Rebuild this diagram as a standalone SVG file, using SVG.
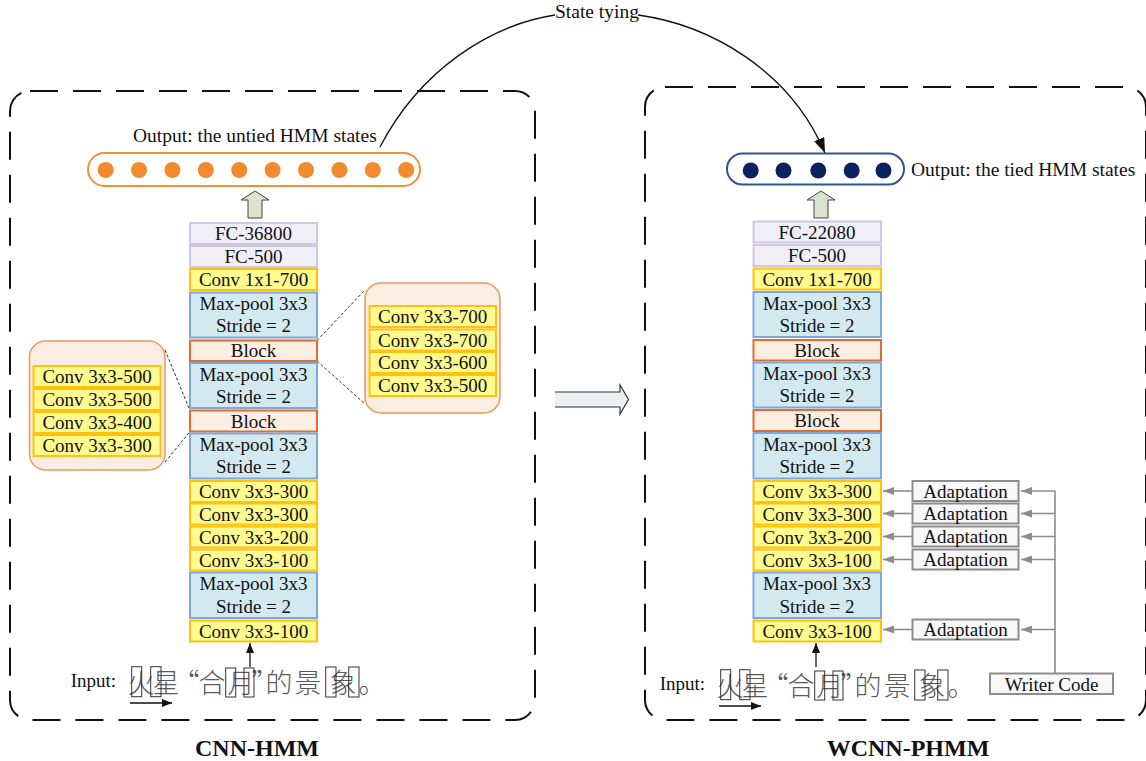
<svg xmlns="http://www.w3.org/2000/svg" xmlns:xlink="http://www.w3.org/1999/xlink" width="1146" height="761" viewBox="0 0 1146 761">
<style>
text{font-family:"Liberation Serif","Times New Roman",serif;font-size:19px;fill:#111}
.c{text-anchor:middle}
.lbl{font-size:19.5px}
.title{font-size:24px;font-weight:bold;text-anchor:middle}
.fc{fill:#F0EEF6;stroke:#CFC8E0;stroke-width:2}
.cv{fill:#FFFB8F;stroke:#FFC20E;stroke-width:2}
.mp{fill:#D3E9F0;stroke:#7EA7E0;stroke-width:2}
.bk{fill:#FDEEE4;stroke:#E36C2A;stroke-width:2}
.det{fill:#FCEDE2;stroke:#E59B5E;stroke-width:1.5}
.ad{fill:#F8F8F8;stroke:#8C8C8C;stroke-width:2}
.dash{fill:none;stroke:#111;stroke-width:2;stroke-dasharray:28 15}
.dl{fill:none;stroke:#333;stroke-width:1;stroke-dasharray:3 2}
.gl{fill:none;stroke:#8C8C8C;stroke-width:1.6}
.bl{fill:none;stroke:#111;stroke-width:1.3}
.hw{font-family:"Noto Sans CJK SC","Noto Sans CJK JP",sans-serif;font-size:27px;fill:#5a5a5a;text-anchor:middle;font-weight:300}
.win{fill:none;stroke:#333;stroke-width:1}
</style>
<defs>
<marker id="mg" viewBox="0 0 11 8" refX="11" refY="4" markerWidth="11" markerHeight="8" markerUnits="userSpaceOnUse" orient="auto"><path d="M0,0 L11,4 L0,8 Z" fill="#8C8C8C"/></marker>
<marker id="mb" viewBox="0 0 10 8" refX="10" refY="4" markerWidth="10" markerHeight="8" markerUnits="userSpaceOnUse" orient="auto"><path d="M0,0 L10,4 L0,8 Z" fill="#111"/></marker>
<marker id="mt" viewBox="0 0 15 11" refX="15" refY="5.5" markerWidth="15" markerHeight="11" markerUnits="userSpaceOnUse" orient="auto"><path d="M0,0 L15,5.5 L0,11 Z" fill="#111"/></marker>
<g id="inputseq">
<text x="70.7" y="687">Input:</text>
<text class="hw" x="141 166 186 212 241 265 279 308 343 372" y="693">火星“合月”的景象。</text>
<rect class="win" x="131.7" y="666.7" width="10" height="30"/>
<rect class="win" x="150.7" y="666.7" width="10.3" height="30"/>
<rect class="win" x="225.7" y="668" width="10" height="29"/>
<rect class="win" x="244" y="668" width="10" height="29"/>
<rect class="win" x="325.7" y="667" width="10.3" height="30"/>
<rect class="win" x="348.7" y="667" width="10.3" height="30"/>
<line class="bl" x1="130" y1="703" x2="172" y2="703" marker-end="url(#mb)"/>
</g>
</defs>

<rect class="dash" x="10" y="91" width="525" height="629" rx="20"/>
<rect class="dash" x="645" y="87" width="501" height="633" rx="20"/>

<g id="connectors">
<path class="bl" d="M380,147 C420,70 490,25 555,15"/>
<path class="bl" d="M638,15 C710,25 790,70 825,153" marker-end="url(#mt)"/>
<line class="dl" x1="165" y1="350" x2="190" y2="410.5"/>
<line class="dl" x1="165" y1="462" x2="190" y2="431.5"/>
<line class="dl" x1="317" y1="340.5" x2="365" y2="290"/>
<line class="dl" x1="317" y1="361" x2="365" y2="404"/>
<line class="bl" x1="250" y1="667" x2="250" y2="643" marker-end="url(#mb)"/>
<line class="bl" x1="816" y1="667" x2="816" y2="643" marker-end="url(#mb)"/>
<line class="gl" x1="912" y1="491" x2="883" y2="491" marker-end="url(#mg)"/>
<line class="gl" x1="912" y1="513.5" x2="883" y2="513.5" marker-end="url(#mg)"/>
<line class="gl" x1="912" y1="536.5" x2="883" y2="536.5" marker-end="url(#mg)"/>
<line class="gl" x1="912" y1="559.5" x2="883" y2="559.5" marker-end="url(#mg)"/>
<line class="gl" x1="912" y1="629.5" x2="883" y2="629.5" marker-end="url(#mg)"/>
<line class="gl" x1="1055" y1="491" x2="1055" y2="673"/>
<line class="gl" x1="1055" y1="491" x2="1021" y2="491" marker-end="url(#mg)"/>
<line class="gl" x1="1055" y1="513.5" x2="1021" y2="513.5" marker-end="url(#mg)"/>
<line class="gl" x1="1055" y1="536.5" x2="1021" y2="536.5" marker-end="url(#mg)"/>
<line class="gl" x1="1055" y1="559.5" x2="1021" y2="559.5" marker-end="url(#mg)"/>
<line class="gl" x1="1055" y1="629.5" x2="1021" y2="629.5" marker-end="url(#mg)"/>
</g>

<g id="state-tying-label"><text class="lbl" x="555" y="17.5">State tying</text></g>

<g id="cnn-output">
<text class="lbl" x="133" y="141.5">Output: the untied HMM states</text>
<rect x="88" y="153" width="332" height="33" rx="16.5" fill="#fff" stroke="#F0913A" stroke-width="2"/>
<g fill="#F28A2E">
<circle cx="105.7" cy="170" r="8"/><circle cx="139" cy="170" r="8"/><circle cx="172.4" cy="170" r="8"/><circle cx="205.8" cy="170" r="8"/><circle cx="239.2" cy="170" r="8"/><circle cx="272.6" cy="170" r="8"/><circle cx="306" cy="170" r="8"/><circle cx="339.4" cy="170" r="8"/><circle cx="372.8" cy="170" r="8"/><circle cx="406.2" cy="170" r="8"/>
</g>
<path d="M255,191 L269,200 L262,200 L262,218 L248,218 L248,200 L241,200 Z" fill="#DCE3CC" stroke="#444" stroke-width="1"/>
</g>

<g id="cnn-stack">
<rect class="fc" x="190" y="223" width="127" height="21"/><text class="c" x="253.5" y="240">FC-36800</text>
<rect class="fc" x="190" y="246" width="127" height="21"/><text class="c" x="253.5" y="263">FC-500</text>
<rect class="cv" x="190" y="269" width="127" height="21"/><text class="c" x="253.5" y="286">Conv 1x1-700</text>
<rect class="mp" x="190" y="292.5" width="127" height="45"/><text class="c" x="253.5" y="310">Max-pool 3x3</text><text class="c" x="253.5" y="332">Stride = 2</text>
<rect class="bk" x="190" y="340.5" width="127" height="20.5"/><text class="c" x="253.5" y="357">Block</text>
<rect class="mp" x="190" y="363" width="127" height="45"/><text class="c" x="253.5" y="380.5">Max-pool 3x3</text><text class="c" x="253.5" y="402.5">Stride = 2</text>
<rect class="bk" x="190" y="410.5" width="127" height="21"/><text class="c" x="253.5" y="427.5">Block</text>
<rect class="mp" x="190" y="433.5" width="127" height="45"/><text class="c" x="253.5" y="451">Max-pool 3x3</text><text class="c" x="253.5" y="473">Stride = 2</text>
<rect class="cv" x="190" y="481" width="127" height="21"/><text class="c" x="253.5" y="498">Conv 3x3-300</text>
<rect class="cv" x="190" y="503.5" width="127" height="21"/><text class="c" x="253.5" y="520.5">Conv 3x3-300</text>
<rect class="cv" x="190" y="526.5" width="127" height="21"/><text class="c" x="253.5" y="543.5">Conv 3x3-200</text>
<rect class="cv" x="190" y="549.5" width="127" height="21"/><text class="c" x="253.5" y="566.5">Conv 3x3-100</text>
<rect class="mp" x="190" y="572.5" width="127" height="45.5"/><text class="c" x="253.5" y="590">Max-pool 3x3</text><text class="c" x="253.5" y="612.5">Stride = 2</text>
<rect class="cv" x="190" y="620.5" width="127" height="21"/><text class="c" x="253.5" y="637.5">Conv 3x3-100</text>
</g>

<g id="block-detail-left">
<rect class="det" x="29.5" y="341" width="135.5" height="129" rx="16"/>
<rect class="cv" x="33.5" y="366" width="127" height="21"/><text class="c" x="97" y="383">Conv 3x3-500</text>
<rect class="cv" x="33.5" y="389" width="127" height="21"/><text class="c" x="97" y="406">Conv 3x3-500</text>
<rect class="cv" x="33.5" y="412" width="127" height="21"/><text class="c" x="97" y="429">Conv 3x3-400</text>
<rect class="cv" x="33.5" y="435" width="127" height="21"/><text class="c" x="97" y="452">Conv 3x3-300</text>
</g>

<g id="block-detail-right">
<rect class="det" x="365" y="283" width="135" height="130" rx="16"/>
<rect class="cv" x="369.5" y="306" width="126.5" height="21"/><text class="c" x="432.7" y="323">Conv 3x3-700</text>
<rect class="cv" x="369.5" y="329.5" width="126.5" height="21"/><text class="c" x="432.7" y="346.5">Conv 3x3-700</text>
<rect class="cv" x="369.5" y="352" width="126.5" height="21"/><text class="c" x="432.7" y="369">Conv 3x3-600</text>
<rect class="cv" x="369.5" y="375" width="126.5" height="21"/><text class="c" x="432.7" y="392">Conv 3x3-500</text>
</g>

<g id="cnn-input"><use xlink:href="#inputseq" href="#inputseq"/></g>

<g id="transfer-arrow">
<path d="M555,392 L620,392 L620,385 L628.5,399.5 L620,414 L620,407 L555,407 Z" fill="#EEEEF5"/>
<path d="M555,392 L620,392 L620,385 L628.5,399.5 L620,414 L620,407 L555,407" fill="none" stroke="#333" stroke-width="1.2"/>
</g>

<g id="wcnn-output">
<rect x="727" y="153.5" width="177" height="31" rx="15.5" fill="#fff" stroke="#2F5597" stroke-width="2"/>
<g fill="#0B2160">
<circle cx="750.7" cy="170.5" r="8"/><circle cx="783.5" cy="170.5" r="8"/><circle cx="818.3" cy="170.5" r="8"/><circle cx="851.7" cy="170.5" r="8"/><circle cx="883.5" cy="170.5" r="8"/>
</g>
<text class="lbl" x="911" y="176">Output: the tied HMM states</text>
<path d="M821,191 L835,200 L828,200 L828,218 L814,218 L814,200 L807,200 Z" fill="#DCE3CC" stroke="#444" stroke-width="1"/>
</g>

<g id="wcnn-stack">
<rect class="fc" x="753.5" y="221.5" width="127.5" height="21"/><text class="c" x="817" y="238.5">FC-22080</text>
<rect class="fc" x="753.5" y="245" width="127.5" height="21"/><text class="c" x="817" y="262">FC-500</text>
<rect class="cv" x="753.5" y="268.5" width="127.5" height="21"/><text class="c" x="817" y="285.5">Conv 1x1-700</text>
<rect class="mp" x="753.5" y="292" width="127.5" height="45"/><text class="c" x="817" y="309.5">Max-pool 3x3</text><text class="c" x="817" y="331.5">Stride = 2</text>
<rect class="bk" x="753.5" y="340" width="127.5" height="20.5"/><text class="c" x="817" y="356.5">Block</text>
<rect class="mp" x="753.5" y="362.5" width="127.5" height="45"/><text class="c" x="817" y="380">Max-pool 3x3</text><text class="c" x="817" y="402">Stride = 2</text>
<rect class="bk" x="753.5" y="410" width="127.5" height="21"/><text class="c" x="817" y="427">Block</text>
<rect class="mp" x="753.5" y="433" width="127.5" height="45.5"/><text class="c" x="817" y="450.5">Max-pool 3x3</text><text class="c" x="817" y="473">Stride = 2</text>
<rect class="cv" x="753.5" y="481" width="127.5" height="21"/><text class="c" x="817" y="498">Conv 3x3-300</text>
<rect class="cv" x="753.5" y="503.5" width="127.5" height="21"/><text class="c" x="817" y="520.5">Conv 3x3-300</text>
<rect class="cv" x="753.5" y="526.5" width="127.5" height="21"/><text class="c" x="817" y="543.5">Conv 3x3-200</text>
<rect class="cv" x="753.5" y="549.5" width="127.5" height="21"/><text class="c" x="817" y="566.5">Conv 3x3-100</text>
<rect class="mp" x="753.5" y="572.5" width="127.5" height="45.5"/><text class="c" x="817" y="590">Max-pool 3x3</text><text class="c" x="817" y="612.5">Stride = 2</text>
<rect class="cv" x="753.5" y="620.5" width="127.5" height="21"/><text class="c" x="817" y="637.5">Conv 3x3-100</text>
</g>

<g id="adaptation">
<rect class="ad" x="912.5" y="481" width="106" height="20"/><text class="c" x="965.5" y="497.5">Adaptation</text>
<rect class="ad" x="912.5" y="503.5" width="106" height="20"/><text class="c" x="965.5" y="520">Adaptation</text>
<rect class="ad" x="912.5" y="526.5" width="106" height="20"/><text class="c" x="965.5" y="543">Adaptation</text>
<rect class="ad" x="912.5" y="549.5" width="106" height="20"/><text class="c" x="965.5" y="566">Adaptation</text>
<rect class="ad" x="912.5" y="619.5" width="106" height="20"/><text class="c" x="965.5" y="636">Adaptation</text>
</g>

<g id="writer-code">
<rect class="ad" x="990" y="673.5" width="123" height="20.5"/><text class="c" x="1051.5" y="690.5">Writer Code</text>
</g>

<g id="wcnn-input"><use xlink:href="#inputseq" href="#inputseq" transform="translate(589,3)"/></g>

<g id="titles">
<text class="title" x="257" y="756">CNN-HMM</text>
<text class="title" x="908" y="756">WCNN-PHMM</text>
</g>
</svg>
